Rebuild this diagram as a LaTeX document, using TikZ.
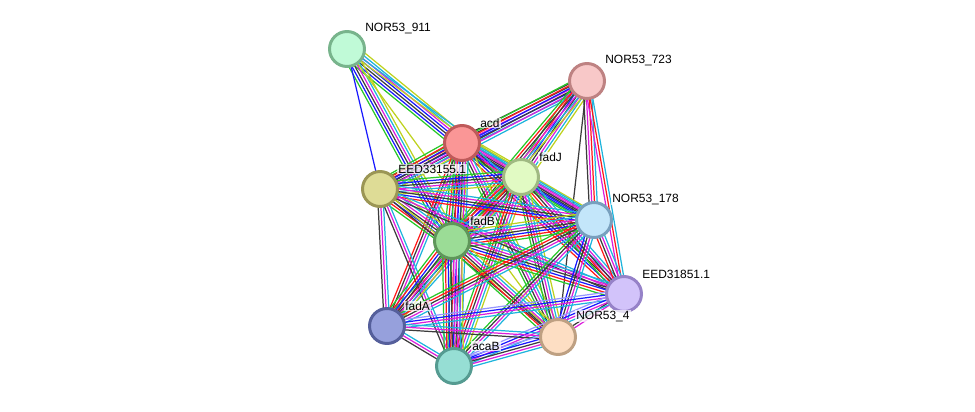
\documentclass[tikz,border=0pt]{standalone}
\usepackage{fontspec}
\setmainfont{Liberation Sans}
\usetikzlibrary{calc}

\pgfdeclarelayer{background}
\pgfsetlayers{background,main}

% evidence colours
\definecolor{eg}{RGB}{40,200,40}
\definecolor{er}{RGB}{255,25,25}
\definecolor{eb}{RGB}{25,25,255}
\definecolor{ek}{RGB}{60,60,60}
\definecolor{em}{RGB}{220,30,220}
\definecolor{ec}{RGB}{30,180,220}
\definecolor{ey}{RGB}{190,210,30}
\definecolor{eh}{RGB}{150,150,255}

% protein colours
\definecolor{c911}{RGB}{192,250,215}  \definecolor{d911}{RGB}{120,180,140}
\definecolor{c723}{RGB}{248,200,200}  \definecolor{d723}{RGB}{190,130,130}
\definecolor{cacd}{RGB}{250,150,150}  \definecolor{dacd}{RGB}{190,90,90}
\definecolor{cfadJ}{RGB}{225,250,195} \definecolor{dfadJ}{RGB}{160,185,130}
\definecolor{cE33}{RGB}{222,220,150}  \definecolor{dE33}{RGB}{155,150,85}
\definecolor{c178}{RGB}{195,230,250}  \definecolor{d178}{RGB}{120,160,190}
\definecolor{cfadB}{RGB}{155,220,150} \definecolor{dfadB}{RGB}{95,150,90}
\definecolor{cE31}{RGB}{210,195,250}  \definecolor{dE31}{RGB}{150,130,200}
\definecolor{cfadA}{RGB}{150,160,220} \definecolor{dfadA}{RGB}{85,95,155}
\definecolor{c4}{RGB}{253,222,195}    \definecolor{d4}{RGB}{190,160,130}
\definecolor{cacaB}{RGB}{150,222,212} \definecolor{dacaB}{RGB}{85,155,145}

% bundle of parallel lines between two proteins, one per colour
\newcommand{\bundle}[3]{%
  \foreach \col [count=\bcount] in {#3} {\global\let\bundlen\bcount}%
  \foreach \col [count=\bidx] in {#3} {
    \pgfmathsetmacro\boff{(\bidx-(\bundlen+1)/2)*1.55}
    \draw[link, draw=\col] ($(#1)!\boff pt!90:(#2)$) -- ($(#2)!\boff pt!-90:(#1)$);
  }}

\begin{document}
\begin{tikzpicture}[x=0.02cm, y=-0.02cm]

\tikzset{
    protein/.style={circle, minimum size=0.7cm, inner sep=0pt, line width=1.7pt},
    protname/.style={font=\fontsize{6.8}{8}\selectfont, fill=white, fill opacity=0.75,
        text opacity=1, inner sep=0.6pt, xshift=0.07cm, yshift=0.015cm},
    link/.style={line width=0.7pt}
}

\useasboundingbox (0,0) rectangle (975,412);

% Proteins
\node[protein, fill=c911, draw=d911, label={[protname]45:NOR53\_911}]    (n911) at (347,49) {};
\node[protein, fill=c723, draw=d723, label={[protname]45:NOR53\_723}]    (n723) at (587,81) {};
\node[protein, fill=cacd, draw=dacd, label={[protname]45:acd}]           (acd)  at (462,143) {};
\node[protein, fill=cfadJ, draw=dfadJ, label={[protname]45:fadJ}]        (fadJ) at (521,177) {};
\node[protein, fill=cE33, draw=dE33, label={[protname]45:EED33155.1}]    (e33)  at (380,189) {};
\node[protein, fill=c178, draw=d178, label={[protname]45:NOR53\_178}]    (n178) at (594,220) {};
\node[protein, fill=cfadB, draw=dfadB, label={[protname]45:fadB}]        (fadB) at (452,241) {};
\node[protein, fill=cE31, draw=dE31, label={[protname]45:EED31851.1}]    (e31)  at (624,294) {};
\node[protein, fill=cfadA, draw=dfadA, label={[protname]45:fadA}]        (fadA) at (387,326) {};
\node[protein, fill=c4, draw=d4, label={[protname]45:NOR53\_4}]          (n4)   at (558,337) {};
\node[protein, fill=cacaB, draw=dacaB, label={[protname]45:acaB}]        (acaB) at (454,366) {};

% Interactions
\begin{pgfonlayer}{background}
\bundle{n911}{acd}{eg,eb,ek,eb,em,ec,ey}
\bundle{n911}{fadJ}{ey,ec}
\bundle{n911}{fadB}{eg,eb,ek,em,ec,ey}
\bundle{n911}{e33}{eb}
\bundle{n911}{n4}{ey}

\bundle{n723}{acd}{ek,ek,em,eb,ec}
\bundle{n723}{fadJ}{eg,er,eb,ek,em,ec,ey}
\bundle{n723}{e33}{eg,er,eb,ek,em,ec}
\bundle{n723}{fadB}{eg,er,ek,em,ec,ey}
\bundle{n723}{n178}{ek,em,er,ec}
\bundle{n723}{e31}{em,er,ec}
\bundle{n723}{n4}{ek}

\bundle{acd}{fadJ}{eg,er,eb,ek,em,ec,ey}
\bundle{acd}{e33}{eg,er,eb,ek,em,ec,ey}
\bundle{acd}{fadB}{eg,er,eb,ek,em,ec,ey}
\bundle{acd}{n178}{eg,eb,ek,em,ec,ey}
\bundle{acd}{e31}{er,eb,ek,em,ec}
\bundle{acd}{fadA}{er,ek,em,ec}
\bundle{acd}{n4}{eg,ek,em,ec,ey}
\bundle{acd}{acaB}{eg,er,eb,ek,em,ec}

\bundle{fadJ}{e33}{eg,eb,ek,em,ec,ey}
\bundle{fadJ}{fadB}{eg,er,eb,ek,em,ec,ey}
\bundle{fadJ}{n178}{eg,eb,ek,em,ec}
\bundle{fadJ}{e31}{eg,er,ek,em,ec}
\bundle{fadJ}{fadA}{eg,er,ek,em,ec}
\bundle{fadJ}{n4}{eg,ek,em,ec,ey}
\bundle{fadJ}{acaB}{eg,er,ek,em,ec,ey}

\bundle{e33}{fadB}{eg,er,eb,ek,em,ec,ey}
\bundle{e33}{n178}{er,eb,ek,em,ec}
\bundle{e33}{e31}{ek,em,ec}
\bundle{e33}{fadA}{ek,em,ec}
\bundle{e33}{acaB}{ek,em,ec}
\bundle{e33}{n4}{ek,ey}

\bundle{fadB}{n178}{eg,er,eb,ek,em,ec,ey}
\bundle{fadB}{e31}{eg,er,eb,ek,em,ec}
\bundle{fadB}{fadA}{eg,er,eb,ek,em,ec,ey}
\bundle{fadB}{n4}{eg,er,ek,em,ec,ey}
\bundle{fadB}{acaB}{eg,er,eb,ek,em,em,ec,ey}

\bundle{n178}{e31}{er,ek,em,ec}
\bundle{n178}{fadA}{eg,er,ek,em,ec}
\bundle{n178}{n4}{eb,ek,em,ec}
\bundle{n178}{acaB}{eg,ek,em,ec}

\bundle{e31}{fadA}{eh,eb,em,ec}
\bundle{e31}{n4}{ek,em}
\bundle{e31}{acaB}{eh,eb,em,ec}

\bundle{fadA}{n4}{ek,em,ec}
\bundle{fadA}{acaB}{ek,em,ec}

\bundle{n4}{acaB}{eh,eb,ek,em,ec}
\end{pgfonlayer}

\end{tikzpicture}
\end{document}
